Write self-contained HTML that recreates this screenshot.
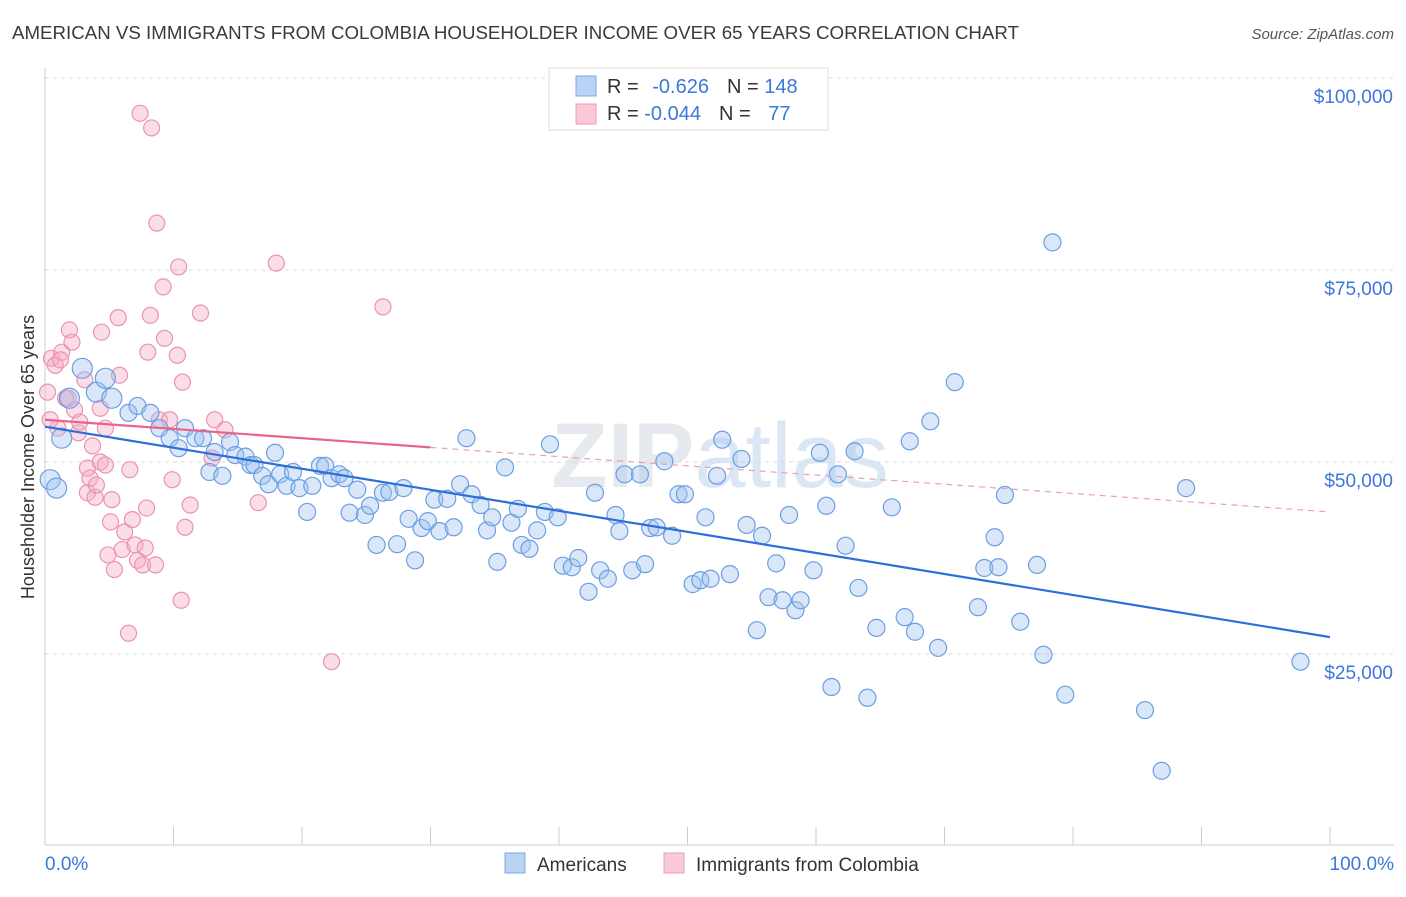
<!DOCTYPE html>
<html><head><meta charset="utf-8"><style>
body{margin:0;background:#fff;font-family:"Liberation Sans",sans-serif}
</style></head><body>
<svg id="chart" width="1406" height="892" xmlns="http://www.w3.org/2000/svg">
<text x="12" y="39" font-size="18" fill="#3a3a3a" textLength="1007" lengthAdjust="spacingAndGlyphs">AMERICAN VS IMMIGRANTS FROM COLOMBIA HOUSEHOLDER INCOME OVER 65 YEARS CORRELATION CHART</text>
<text x="1394" y="39" font-size="15" fill="#555" font-style="italic" text-anchor="end">Source: ZipAtlas.com</text>
<text x="720" y="487" font-size="92" fill="#e6e9ee" text-anchor="middle" font-weight="bold">ZIP<tspan fill="#dbe7f5" font-weight="normal">atlas</tspan></text>
<g id="grid"></g>
<g id="axes"></g>
<g id="pts"></g>
<g id="trends"></g>
<text transform="translate(34,457) rotate(-90)" font-size="18" fill="#333" text-anchor="middle">Householder Income Over 65 years</text>
<g>
<rect x="549" y="68" width="279" height="62" fill="#fff" stroke="#ddd"/>
<rect x="576" y="76" width="20" height="20" fill="#b9d3f5" stroke="#7fa9e4"/>
<rect x="576" y="104" width="20" height="20" fill="#fbcad8" stroke="#ec9bb5"/>
<text x="607" y="93" font-size="20" fill="#333">R = <tspan fill="#3c78d8" dx="8">-0.626</tspan><tspan dx="18" fill="#333">N = </tspan><tspan fill="#3c78d8">148</tspan></text>
<text x="607" y="120" font-size="20" fill="#333">R = <tspan fill="#3c78d8">-0.044</tspan><tspan dx="18" fill="#333">N = </tspan><tspan fill="#3c78d8" dx="12">77</tspan></text>
</g>
<g>
<rect x="505" y="853" width="20" height="20" fill="#b9d3f5" stroke="#7fa9e4"/>
<text x="537" y="871" font-size="19" fill="#333">Americans</text>
<rect x="664" y="853" width="20" height="20" fill="#fbcad8" stroke="#ec9bb5"/>
<text x="696" y="871" font-size="19" fill="#333">Immigrants from Colombia</text>
</g>
</svg>
<script>
const yTicks=[25,50,75,100];
const yTickLabels=["$25,000","$50,000","$75,000","$100,000"];
const xTickLabels=["0.0%","100.0%"];
const blueX=[0.4,0.9,1.3,1.9,2.9,4.0,4.7,5.2,6.5,7.2,8.2,8.9,9.7,10.4,10.9,11.7,12.3,12.8,13.2,13.8,14.4,14.8,15.6,16.0,16.3,16.9,17.4,17.9,18.3,18.8,19.3,19.8,20.4,20.8,21.4,21.8,22.3,22.9,23.3,23.7,24.3,24.9,25.3,25.8,26.3,26.8,27.4,27.9,28.3,28.8,29.3,29.8,30.3,30.7,31.3,31.8,32.3,32.8,33.2,33.9,34.4,34.8,35.2,35.8,36.3,36.8,37.1,37.7,38.3,38.9,39.3,39.9,40.3,41.0,41.5,42.3,42.8,43.2,43.8,44.4,44.7,45.1,45.7,46.3,46.7,47.1,47.6,48.2,48.8,49.3,49.8,50.4,51.0,51.4,51.8,52.3,52.7,53.3,54.2,54.6,55.4,55.8,56.3,56.9,57.4,57.9,58.4,58.8,59.8,60.3,60.8,61.2,61.7,62.3,63.0,63.3,64.0,64.7,65.9,66.9,67.3,67.7,68.9,69.5,70.8,72.6,73.1,73.9,74.2,74.7,75.9,77.2,77.7,78.4,79.4,85.6,86.9,88.8,97.7];
const blueY=[47.7,46.6,53.1,58.3,62.2,59.1,60.9,58.3,56.4,57.3,56.4,54.4,53.1,51.8,54.4,53.1,53.1,48.7,51.3,48.2,52.6,50.9,50.7,49.6,49.6,48.2,47.1,51.2,48.4,46.9,48.7,46.6,43.5,46.9,49.5,49.5,47.9,48.4,47.9,43.4,46.4,43.1,44.3,39.2,46.0,46.1,39.3,46.6,42.6,37.2,41.4,42.3,45.1,41.0,45.2,41.5,47.1,53.1,45.8,44.4,41.1,42.8,37.0,49.3,42.1,43.9,39.2,38.7,41.1,43.5,52.3,42.8,36.5,36.3,37.5,33.1,46.0,35.9,34.8,43.1,41.0,48.4,35.9,48.4,36.7,41.4,41.5,50.1,40.4,45.8,45.8,34.1,34.6,42.8,34.8,48.2,52.9,35.4,50.4,41.8,28.1,40.4,32.4,36.8,32.0,43.1,30.7,32.0,35.9,51.2,44.3,20.7,48.4,39.1,51.4,33.6,19.3,28.4,44.1,29.8,52.7,27.9,55.3,25.8,60.4,31.1,36.2,40.2,36.3,45.7,29.2,36.6,24.9,78.6,19.7,17.7,9.8,46.6,24.0];
const pinkX=[0.2,0.5,0.8,1.0,1.3,1.6,1.9,2.1,2.3,2.6,2.7,3.1,3.3,3.3,3.5,3.9,4.0,4.3,4.4,4.7,4.9,5.1,5.2,5.4,5.7,5.8,6.0,6.2,6.5,6.6,6.8,7.0,7.2,7.4,7.6,7.8,7.9,8.0,8.2,8.3,8.6,8.7,8.9,9.2,9.3,9.7,9.9,10.3,10.4,10.6,10.7,10.9,11.3,12.1,13.0,13.2,14.0,16.6,18.0,22.3,26.3,0.4,1.2,4.3,1.8,3.7,4.7];
const pinkY=[59.1,63.5,62.6,54.4,64.3,58.3,67.2,65.6,56.8,53.8,55.2,60.7,46.0,49.2,47.9,45.4,47.0,50.0,66.9,49.6,37.9,42.2,45.1,36.0,68.8,61.3,38.6,40.9,27.7,49.0,42.5,39.2,37.2,95.4,36.6,38.8,44.0,64.3,69.1,93.5,36.6,81.1,55.5,72.8,66.1,55.5,47.7,63.9,75.4,32.0,60.4,41.5,44.4,69.4,50.5,55.5,54.2,44.7,75.9,24.0,70.2,55.5,63.3,57.0,58.3,52.1,54.4];
const blueTrend=[54.6,27.2];
const pinkTrend=[55.5,43.5];
const pinkSolidEnd=30;

const NS="http://www.w3.org/2000/svg";
const X=v=>45+v/100*1285;
const Y=v=>654-(v-25)/25*192;
function mk(tag,attrs,parent){const e=document.createElementNS(NS,tag);for(const k in attrs)e.setAttribute(k,attrs[k]);parent.appendChild(e);return e;}
const grid=document.getElementById('grid'),axes=document.getElementById('axes'),pts=document.getElementById('pts'),tr=document.getElementById('trends');
yTicks.forEach((t,i)=>{
 const l=mk('line',{x1:45,x2:1394,y1:Y(t),y2:Y(t),stroke:'#d8d8d8','stroke-dasharray':'4,4'},grid);
 
 
 const tx=mk('text',{x:1393,y:Y(t)+25,'font-size':19,fill:'#3c78d8','text-anchor':'end'},axes);
 tx.textContent=yTickLabels[i];
 
 
});
const ax=mk('line',{x1:45,x2:45,y1:68,y2:845,stroke:'#ccc'},axes);


const xa=mk('line',{x1:45,x2:1394,y1:845,y2:845,stroke:'#ccc'},axes);


for(let i=0;i<=10;i++){
 const t=mk('line',{x1:X(i*10),x2:X(i*10),y1:827,y2:845,stroke:'#ccc'},axes);
 
 
}
[[0,'start',45],[100,'end',1394]].forEach((d,i)=>{
 const tx=mk('text',{x:d[2],y:870,'font-size':19,fill:'#3c78d8','text-anchor':d[1]},axes);
 tx.textContent=xTickLabels[i];
 
 
});
pinkX.forEach((x,i)=>{
 const c=mk('circle',{cx:X(x),cy:Y(pinkY[i]),r:8,fill:'rgba(245,170,195,0.4)',stroke:'#eb93b2','stroke-width':1.2},pts);
 
 
});
blueX.forEach((x,i)=>{
 const c=mk('circle',{cx:X(x),cy:Y(blueY[i]),r:i<8?10:8.5,fill:'rgba(160,195,240,0.4)',stroke:'#6b9fe3','stroke-width':1.2},pts);
 
 
});
const bl=mk('line',{x1:X(0),y1:Y(blueTrend[0]),x2:X(100),y2:Y(blueTrend[1]),stroke:'#2c6fd8','stroke-width':2.2},tr);


const pAt=x=>pinkTrend[0]+(pinkTrend[1]-pinkTrend[0])*x/100;
const ps=mk('line',{x1:X(0),y1:Y(pAt(0)),x2:X(pinkSolidEnd),y2:Y(pAt(pinkSolidEnd)),stroke:'#e8648e','stroke-width':2.2},tr);


const pd=mk('line',{x1:X(pinkSolidEnd),y1:Y(pAt(pinkSolidEnd)),x2:X(100),y2:Y(pAt(100)),stroke:'#e8a0b8','stroke-width':1.2,'stroke-dasharray':'6,5'},tr);


</script>
</body></html>
